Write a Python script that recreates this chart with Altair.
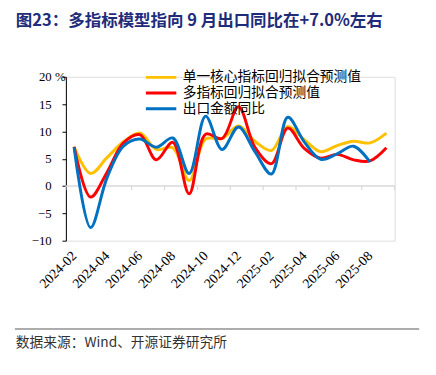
import altair as alt
import pandas as pd

months = ["2024-02", "2024-03", "2024-04", "2024-05", "2024-06", "2024-07", "2024-08",
          "2024-09", "2024-10", "2024-11", "2024-12", "2025-01", "2025-02", "2025-03",
          "2025-04", "2025-05", "2025-06", "2025-07", "2025-08", "2025-09"]
single_core = [7.2, 2.3, 5.2, 8.1, 9.7, 6.7, 7.0, 1.0, 8.6, 8.7, 11.0, 8.2, 6.5, 10.9,
               8.5, 6.3, 7.4, 8.2, 7.9, 9.7]
multi_index = [7.2, -2.0, 2.5, 7.9, 9.4, 4.8, 8.0, -1.4, 9.5, 8.7, 14.5, 7.1, 4.1, 10.6,
               6.9, 5.1, 5.8, 4.8, 4.6, 7.0]
export_yoy = [7.1, -7.6, 1.5, 7.3, 8.6, 7.1, 8.8, 2.3, 12.8, 6.7, 10.8, 6.3, 2.2, 12.6,
              8.1, 4.9, 5.9, 7.3, 4.4]
series_names = ["单一核心指标回归拟合预测值", "多指标回归拟合预测值", "出口金额同比"]
series_colors = ["#FFC000", "#FF0000", "#0070C0"]
y_ticks = [-10, -5, 0, 5, 10, 15, 20]
label_idx = list(range(0, 20, 2))
boundaries = [-0.5 + 2 * k for k in range(11)]

title_text = "图23：多指标模型指向 9 月出口同比在+7.0%左右"
source_text = "数据来源：Wind、开源证券研究所"

rows = []
for name, vals in zip(series_names, [single_core, multi_index, export_yoy]):
    for i, v in enumerate(vals):
        rows.append({"idx": i, "month": months[i], "series": name, "value": v})
df = pd.DataFrame(rows)

W, H = 335, 167
xscale = alt.Scale(domain=[-0.5, 19.5], nice=False, zero=False)
yscale = alt.Scale(domain=[-10, 20], nice=False, zero=False)
label_expr = "[" + ",".join("'%s'" % m for m in months) + "][datum.value]"

serif = "Liberation Serif"
cjk = "Noto Sans CJK SC"

xaxis = alt.Axis(values=label_idx, labelExpr=label_expr, labelAngle=-45,
                 labelAlign="right", labelBaseline="middle", domain=False,
                 ticks=False, grid=False, labelFont=serif, labelFontSize=14,
                 labelColor="black", labelPadding=13, labelOverlap=False,
                 labelFlush=False, labelBound=False)
yaxis = alt.Axis(values=y_ticks, grid=False, domainColor="#000000",
                 tickColor="#000000", tickSize=4, labelFont=serif,
                 labelFontSize=13, labelColor="black", labelPadding=11,
                 labelOverlap=False, labelFlush=False, labelBound=False)

zero_line = alt.Chart(pd.DataFrame({"z": [0]})).mark_rule(
    color="#D9D9D9", strokeWidth=1.5
).encode(
    y=alt.Y("z:Q", scale=yscale, axis=yaxis, title=None),
    x=alt.value(0), x2=alt.value(W),
)

tick_marks = alt.Chart(pd.DataFrame({"b": boundaries, "y0": 0.0, "y1": -0.75})).mark_rule(
    color="#D9D9D9", strokeWidth=1.2
).encode(
    x=alt.X("b:Q", scale=xscale, axis=xaxis, title=None),
    y=alt.Y("y0:Q", scale=yscale, axis=yaxis, title=None),
    y2="y1:Q",
)

lines = alt.Chart(df).mark_line(interpolate="catmull-rom", strokeWidth=3).encode(
    x=alt.X("idx:Q", scale=xscale, title=None, axis=xaxis),
    y=alt.Y("value:Q", scale=yscale, title=None, axis=yaxis),
    color=alt.Color("series:N", scale=alt.Scale(domain=series_names, range=series_colors),
                    legend=alt.Legend(title=None, orient="none", legendX=80, legendY=-7,
                                      direction="vertical", symbolType="stroke",
                                      symbolSize=961, symbolStrokeWidth=3,
                                      labelFont=cjk, labelFontSize=14, labelColor="black",
                                      labelLimit=400, clipHeight=15.2, rowPadding=0,
                                      labelOffset=5, padding=0)),
)

pct = alt.Chart(pd.DataFrame({"t": ["%"]})).mark_text(
    font=serif, fontSize=13, align="left", baseline="middle", color="black"
).encode(text="t:N", x=alt.value(-11), y=alt.value(0.5))

title = alt.Chart(pd.DataFrame({"t": [title_text]})).mark_text(
    font=cjk, fontSize=16.8, fontWeight="bold", align="left", baseline="middle",
    color="#1E2C7A"
).encode(text="t:N", x=alt.value(-51), y=alt.value(-57))

bottom_rule = alt.Chart(pd.DataFrame({"z": [0]})).mark_rule(
    color="#595959", strokeWidth=1
).encode(x=alt.value(-52), x2=alt.value(360), y=alt.value(257))

source = alt.Chart(pd.DataFrame({"t": [source_text]})).mark_text(
    font=cjk, fontSize=14, align="left", baseline="middle", color="#333333"
).encode(text="t:N", x=alt.value(-51), y=alt.value(271))

chart = alt.layer(zero_line, tick_marks, lines, pct, title, bottom_rule, source).properties(
    width=W, height=H,
    autosize=alt.AutoSizeParams(type="none"),
    padding={"left": 59, "top": 66.7, "right": 34, "bottom": 125},
).configure_view(stroke=None).configure(background="white")

chart.save("out.html", embed_options={"renderer": "svg", "actions": False})
